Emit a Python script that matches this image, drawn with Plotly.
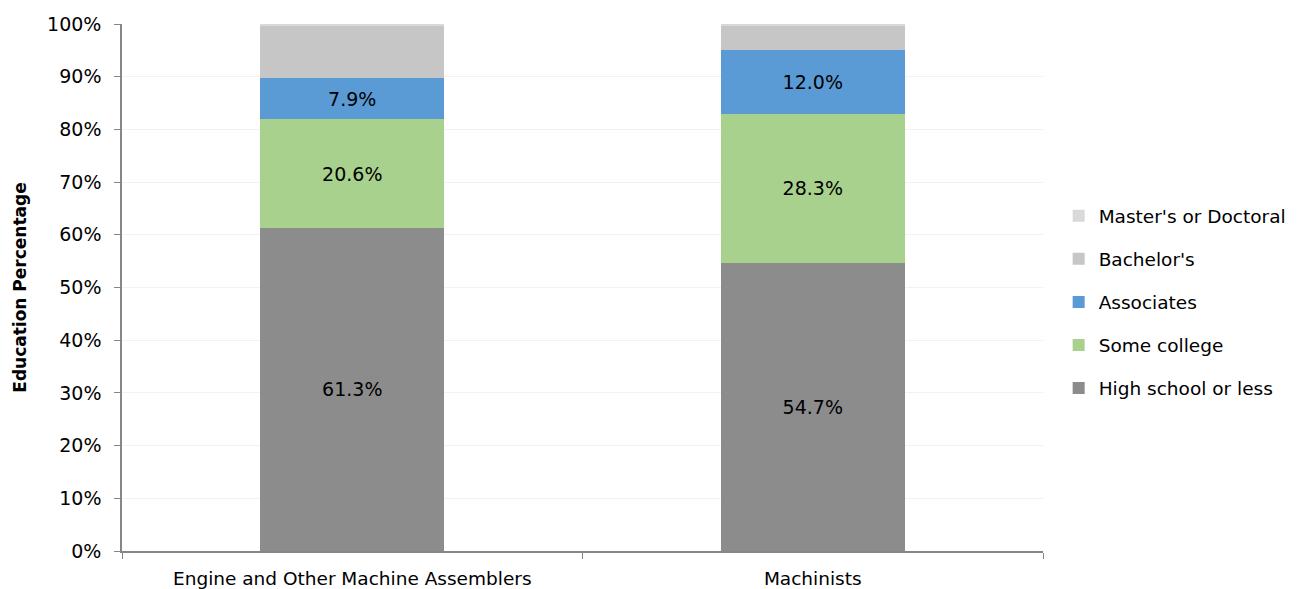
import plotly.graph_objects as go

categories = ["Engine and Other Machine Assemblers", "Machinists"]
series_names = ["High school or less", "Some college", "Associates", "Bachelor's", "Master's or Doctoral"]
high_school = [61.3, 54.7]
some_college = [20.6, 28.3]
associates = [7.9, 12.0]
bachelors = [10.0, 4.8]
masters = [0.2, 0.2]
colors = ["#8c8c8c", "#a9d18e", "#5b9bd5", "#c6c6c6", "#d9d9d9"]
show_text = [True, True, True, False, False]

FONT = "DejaVu Sans"
fig = go.Figure()
for i, (name, vals, col, st) in enumerate(zip(series_names, [high_school, some_college, associates, bachelors, masters], colors, show_text)):
    fig.add_trace(go.Bar(
        x=categories, y=vals, name=name, marker=dict(color=col, line=dict(width=0)),
        text=[f"{v:.1f}%" for v in vals] if st else None,
        textposition="inside" if st else "none", insidetextanchor="middle",
        textfont=dict(family=FONT, size=19, color="black"),
        legendgroup=name, legendrank=100 - i, hoverinfo="skip",
    ))

fig.update_layout(
    barmode="stack", bargap=0.6,
    width=1304, height=589,
    margin=dict(l=122, r=261, t=24, b=38),
    plot_bgcolor="white", paper_bgcolor="white",
    font=dict(family=FONT, size=18, color="black"),
    uniformtext=dict(minsize=10, mode="show"),
    legend=dict(traceorder="grouped", x=1.017, xanchor="left", y=0.472, yanchor="middle",
                font=dict(family=FONT, size=18.5, color="black"), tracegroupgap=16,
                itemwidth=30),
    xaxis=dict(showline=True, linecolor="#868686", linewidth=1.5, ticks="outside", tickson="boundaries",
               ticklen=6, tickcolor="#868686", tickfont=dict(family=FONT, size=18.5),
               ticklabelstandoff=10, automargin=False),
    yaxis=dict(range=[0, 100], dtick=10, ticksuffix="%", showline=True, linecolor="#868686", linewidth=1.5,
               ticks="outside", ticklen=6, tickcolor="#868686", gridcolor="#f2f2f2",
               tickfont=dict(family=FONT, size=19), ticklabelstandoff=9, automargin=False,
               title=dict(text="<b>Education Percentage</b>", font=dict(family=FONT, size=17), standoff=16)),
)
fig.write_html("out.html", config={"displayModeBar": False},
               post_script="document.body.style.margin='0';document.body.style.overflow='hidden';")
